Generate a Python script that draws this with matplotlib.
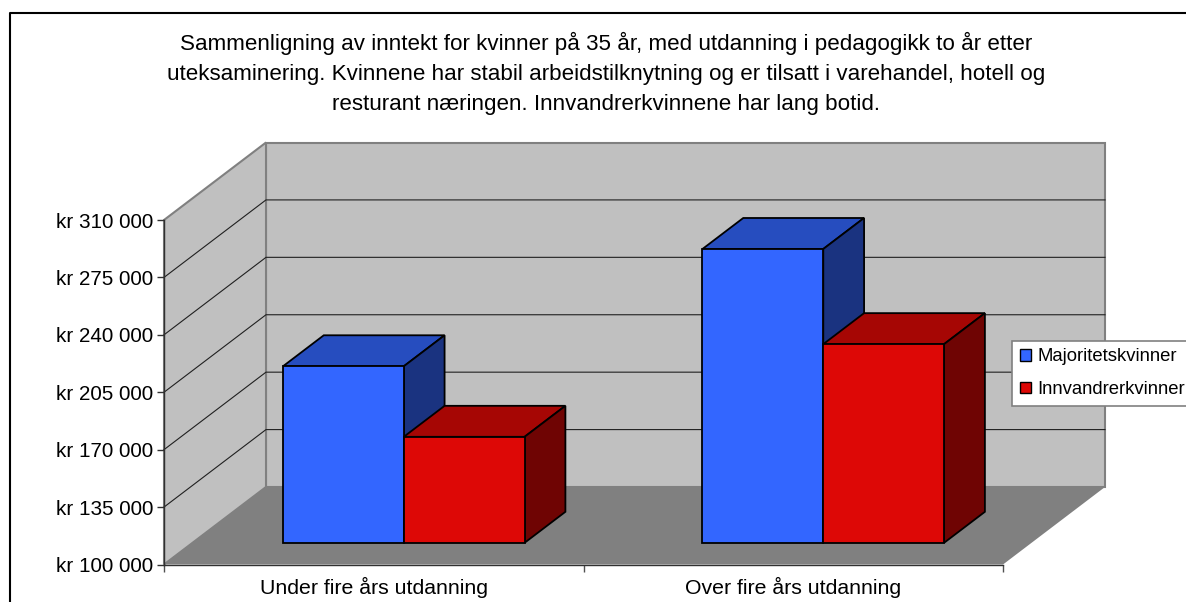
import matplotlib
matplotlib.use('Agg')
import matplotlib.pyplot as plt
from matplotlib.patches import Polygon, Patch

plt.rcParams['font.family'] = ['Liberation Sans', 'DejaVu Sans']

title = ('Sammenligning av inntekt for kvinner på 35 år, med utdanning i pedagogikk to år etter\n'
         'uteksaminering. Kvinnene har stabil arbeidstilknytning og er tilsatt i varehandel, hotell og\n'
         'resturant næringen. Innvandrerkvinnene har lang botid.')
categories = ['Under fire års utdanning', 'Over fire års utdanning']
majoritet = [207600, 279100]
innvandrer = [164600, 221100]
ticks = [100000, 135000, 170000, 205000, 240000, 275000, 310000]
tick_labels = ['kr 100 000', 'kr 135 000', 'kr 170 000', 'kr 205 000', 'kr 240 000', 'kr 275 000', 'kr 310 000']

W, H = 1186, 602
ymin, ymax = ticks[0], ticks[-1]

fig = plt.figure(figsize=(W / 100, H / 100), dpi=100, facecolor='white')
ax = fig.add_axes([164 / W, 1 - 564.5 / H, 839 / W, 344.5 / H])
ax.set_xlim(0, 2)
ax.set_ylim(ymin, ymax)
ax.patch.set_visible(False)

# depth of the 3d box, in data units
dx = 102 / 839 * 2
dy = 77.5 / 344.5 * (ymax - ymin)

def proj(x, y, d):
    return (x + d * dx, y + d * dy)

def poly(pts, fc, ec='none', lw=0.0, z=1):
    ax.add_patch(Polygon(pts, closed=True, facecolor=fc, edgecolor=ec, linewidth=lw,
                         clip_on=False, zorder=z, joinstyle='miter'))

# walls and floor
poly([proj(0, ymin, 1), proj(2, ymin, 1), proj(2, ymax, 1), proj(0, ymax, 1)], '#C0C0C0', '#808080', 1.5, 1)
poly([proj(0, ymin, 0), proj(0, ymin, 1), proj(0, ymax, 1), proj(0, ymax, 0)], '#C0C0C0', '#808080', 1.5, 1)
poly([proj(0, ymin, 0), proj(2, ymin, 0), proj(2, ymin, 1), proj(0, ymin, 1)], '#808080', 'none', 0, 2)

for t in ticks[1:-1]:
    a, b = proj(0, t, 0), proj(0, t, 1)
    c = proj(2, t, 1)
    ax.plot([a[0], b[0], c[0]], [a[1], b[1], c[1]], color='#202020', lw=0.8, clip_on=False, zorder=1.5)

# bars
d0, d1 = 0.28, 0.68
bar_w = 0.288
colors = [('#3366FF', '#264DBF', '#1A3380'), ('#DD0806', '#A60604', '#6F0403')]

def draw_bar(left, value, cols, z):
    x0 = left
    x1 = left + bar_w
    fx0, fb = proj(x0, ymin, d0)
    ax.bar(fx0, value - ymin, width=bar_w, bottom=fb, align='edge', color=cols[0], edgecolor='black',
           linewidth=1.3, clip_on=False, zorder=z + 0.2)
    poly([proj(x0, value, d0), proj(x1, value, d0), proj(x1, value, d1), proj(x0, value, d1)],
         cols[1], 'black', 1.3, z)
    poly([proj(x1, ymin, d0), proj(x1, ymin, d1), proj(x1, value, d1), proj(x1, value, d0)],
         cols[2], 'black', 1.3, z)

z = 3
for i in range(len(categories)):
    draw_bar(i + 0.2155, majoritet[i], colors[0], z)
    draw_bar(i + 0.2155 + bar_w, innvandrer[i], colors[1], z + 1)
    z += 2

# axes
for s in ['top', 'right']:
    ax.spines[s].set_visible(False)
for s in ['left', 'bottom']:
    ax.spines[s].set_color('#303030')
    ax.spines[s].set_linewidth(1.0)
    ax.spines[s].set_zorder(2.5)
ax.set_yticks(ticks)
ax.set_yticklabels(tick_labels)
ax.set_xticks([0, 1, 2])
ax.set_xticklabels([])
ax.set_xticks([0.5, 1.5], categories, minor=True)
ax.tick_params(axis='y', length=5, width=1, color='#303030', labelsize=14.9, pad=2.5, labelcolor='black')
ax.tick_params(axis='x', which='major', length=5, width=1, color='#505050')
ax.tick_params(axis='x', which='minor', length=0, labelsize=15.3, pad=9)

# chart frame, open to the right and below
fig.add_artist(plt.Line2D([9.5 / W, 9.5 / W, 1], [0, 1 - 13 / H, 1 - 13 / H], color='black', lw=1.5))

fig.text(606 / W, 1 - 73.5 / H, title, ha='center', va='center', fontsize=16.15, linespacing=1.55, color='black')

handles = [Patch(facecolor=colors[0][0], edgecolor='black', label='Majoritetskvinner'),
           Patch(facecolor=colors[1][0], edgecolor='black', label='Innvandrerkvinner')]
leg = fig.legend(handles=handles, loc='upper left', bbox_to_anchor=(1012 / W, 1 - 340.5 / H),
                 bbox_transform=fig.transFigure, fontsize=13.3, frameon=True, fancybox=False,
                 framealpha=1, edgecolor='#808080', borderpad=0.42, labelspacing=0.85,
                 handlelength=0.6, handleheight=0.6, handletextpad=0.36, borderaxespad=0)
leg.get_frame().set_linewidth(1.2)
leg.set_zorder(20)

fig.savefig('out.png', dpi=100, facecolor='white')
